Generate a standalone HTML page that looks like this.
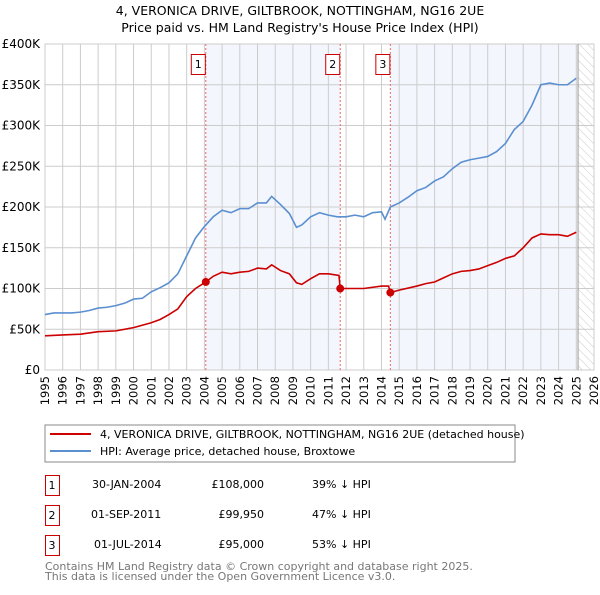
<!DOCTYPE html>
<html><head><meta charset="utf-8"><style>
body{margin:0;background:#fff;font-family:"Liberation Sans","DejaVu Sans",sans-serif;}
svg text{font-family:"DejaVu Sans","Liberation Sans",sans-serif;}
</style></head><body>
<svg id="c" width="600" height="590" xmlns="http://www.w3.org/2000/svg">
<defs><pattern id="hatch" width="6" height="6" patternUnits="userSpaceOnUse" patternTransform="rotate(-45)"><line x1="0" y1="0" x2="0" y2="6" stroke="#ccc" stroke-width="1"/></pattern></defs>
<text x="300" y="15" text-anchor="middle" font-size="12.5">4, VERONICA DRIVE, GILTBROOK, NOTTINGHAM, NG16 2UE</text>
<text x="300" y="32" text-anchor="middle" font-size="12.5">Price paid vs. HM Land Registry's House Price Index (HPI)</text>
<g id="plot"></g>
<rect x="45" y="425" width="470" height="37" fill="#fff" stroke="#888"/>
<line x1="50" y1="434" x2="91" y2="434" stroke="#cc0000" stroke-width="2"/>
<text x="100" y="438" font-size="11">4, VERONICA DRIVE, GILTBROOK, NOTTINGHAM, NG16 2UE (detached house)</text>
<line x1="50" y1="451" x2="91" y2="451" stroke="#5b8fd0" stroke-width="2"/>
<text x="100" y="455" font-size="11">HPI: Average price, detached house, Broxtowe</text>
<g font-size="11">
<rect x="45.5" y="475.5" width="14" height="20" fill="none" stroke="#c00"/><text x="52" y="489" text-anchor="middle">1</text>
<text x="92" y="488">30-JAN-2004</text><text x="264" y="488" text-anchor="end">£108,000</text><text x="312" y="488">39% ↓ HPI</text>
<rect x="45.5" y="505.5" width="14" height="20" fill="none" stroke="#c00"/><text x="52" y="519" text-anchor="middle">2</text>
<text x="91" y="518">01-SEP-2011</text><text x="264" y="518" text-anchor="end">£99,950</text><text x="312" y="518">47% ↓ HPI</text>
<rect x="45.5" y="535.5" width="14" height="20" fill="none" stroke="#c00"/><text x="52" y="549" text-anchor="middle">3</text>
<text x="94" y="548">01-JUL-2014</text><text x="264" y="548" text-anchor="end">£95,000</text><text x="312" y="548">53% ↓ HPI</text>
</g>
<text x="45" y="570" font-size="11" fill="#777">Contains HM Land Registry data © Crown copyright and database right 2025.</text>
<text x="45" y="580" font-size="11" fill="#777">This data is licensed under the Open Government Licence v3.0.</text>
</svg>
<script>
const hpiYears=[1995,1995.5,1996,1996.5,1997,1997.5,1998,1998.5,1999,1999.5,2000,2000.5,2001,2001.5,2002,2002.5,2003,2003.5,2004,2004.5,2005,2005.5,2006,2006.5,2007,2007.5,2007.8,2008.3,2008.8,2009.2,2009.5,2010,2010.5,2011,2011.5,2012,2012.5,2013,2013.5,2014,2014.2,2014.5,2015,2015.5,2016,2016.5,2017,2017.5,2018,2018.5,2019,2019.5,2020,2020.5,2021,2021.5,2022,2022.5,2023,2023.5,2024,2024.5,2025];
const hpiValues=[68,70,70,70,71,73,76,77,79,82,87,88,96,101,107,118,140,162,176,188,196,193,198,198,205,205,213,203,192,175,178,188,193,190,188,188,190,188,193,194,185,200,205,212,220,224,232,237,247,255,258,260,262,268,278,295,305,325,350,352,350,350,358];
const priceYears=[1995,1996,1997,1998,1999,2000,2001,2001.5,2002,2002.5,2003,2003.5,2004.08,2004.5,2005,2005.5,2006,2006.5,2007,2007.5,2007.8,2008.3,2008.8,2009.2,2009.5,2010,2010.5,2011,2011.6,2011.67,2012,2013,2014,2014.4,2014.5,2015,2016,2016.5,2017,2017.5,2018,2018.5,2019,2019.5,2020,2020.5,2021,2021.5,2022,2022.5,2023,2023.5,2024,2024.5,2025];
const priceValues=[42,43,44,47,48,52,58,62,68,75,90,100,108,115,120,118,120,121,125,124,129,122,118,107,105,112,118,118,116,99.95,100,100,103,103,95,98,103,106,108,113,118,121,122,124,128,132,137,140,150,162,167,166,166,164,169];
const saleYears=[2004.08,2011.67,2014.5];
const saleValues=[108,99.95,95];
const saleLabels=["1","2","3"];
const yTicks=[0,50,100,150,200,250,300,350,400];
const yTickLabels=["£0","£50K","£100K","£150K","£200K","£250K","£300K","£350K","£400K"];
const xTicks=[1995,1996,1997,1998,1999,2000,2001,2002,2003,2004,2005,2006,2007,2008,2009,2010,2011,2012,2013,2014,2015,2016,2017,2018,2019,2020,2021,2022,2023,2024,2025,2026];

const NS="http://www.w3.org/2000/svg";
const L=45,R=594,T=44,B=370,X0=1995,X1=2026,YMAX=400,DATA_END=2025.1;
const xs=v=>L+(v-X0)/(X1-X0)*(R-L);
const ys=v=>B-v/YMAX*(B-T);
const g=document.getElementById('plot');
function mk(tag,attrs){const e=document.createElementNS(NS,tag);for(const k in attrs)e.setAttribute(k,attrs[k]);g.appendChild(e);return e;}

let e;
e=mk('rect',{x:xs(saleYears[0]),y:T,width:xs(saleYears[1])-xs(saleYears[0]),height:B-T,fill:'#eef3fc',opacity:0.7});


e=mk('rect',{x:xs(saleYears[2]),y:T,width:xs(DATA_END)-xs(saleYears[2]),height:B-T,fill:'#eef3fc',opacity:0.7});


e=mk('rect',{x:xs(DATA_END),y:T,width:R-xs(DATA_END),height:B-T,fill:'url(#hatch)'});



xTicks.forEach(t=>{
  e=mk('line',{x1:xs(t),x2:xs(t),y1:T,y2:B,stroke:'#ccc','stroke-width':1});
  
  
  e=mk('text',{x:0,y:0,'font-size':11.5,'text-anchor':'end',transform:`translate(${xs(t)+4},${B+6}) rotate(-90)`});
  e.textContent=t;
  
  
});
yTicks.forEach((t,i)=>{
  e=mk('line',{x1:L,x2:R,y1:ys(t),y2:ys(t),stroke:'#ccc','stroke-width':1});
  
  
  e=mk('text',{x:L-5,y:ys(t)+4,'font-size':12,'text-anchor':'end'});
  e.textContent=yTickLabels[i];
  
  
});
e=mk('rect',{x:L,y:T,width:R-L,height:B-T,fill:'none',stroke:'#ccc'});


e=mk('line',{x1:xs(DATA_END),x2:xs(DATA_END),y1:T,y2:B,stroke:'#999','stroke-width':1});



saleYears.forEach((s,i)=>{
  e=mk('line',{x1:xs(s),x2:xs(s),y1:T,y2:B,stroke:'#e66','stroke-width':1,'stroke-dasharray':'2,2'});
  
  
  e=mk('rect',{x:xs(s)-14.5,y:54.5,width:14,height:20,fill:'#fff',stroke:'#c00'});
  
  
  e=mk('text',{x:xs(s)-7.5,y:68,'font-size':11,'text-anchor':'middle'});
  e.textContent=saleLabels[i];
  
  
});

e=mk('polyline',{points:hpiYears.map((y,i)=>xs(y)+','+ys(hpiValues[i])).join(' '),fill:'none',stroke:'#5b8fd0','stroke-width':1.6});


e=mk('polyline',{points:priceYears.map((y,i)=>xs(y)+','+ys(priceValues[i])).join(' '),fill:'none',stroke:'#cc0000','stroke-width':1.6});


saleYears.forEach((s,i)=>{
  e=mk('circle',{cx:xs(s),cy:ys(saleValues[i]),r:4,fill:'#cc0000'});
  
  
});
</script>
</body></html>
